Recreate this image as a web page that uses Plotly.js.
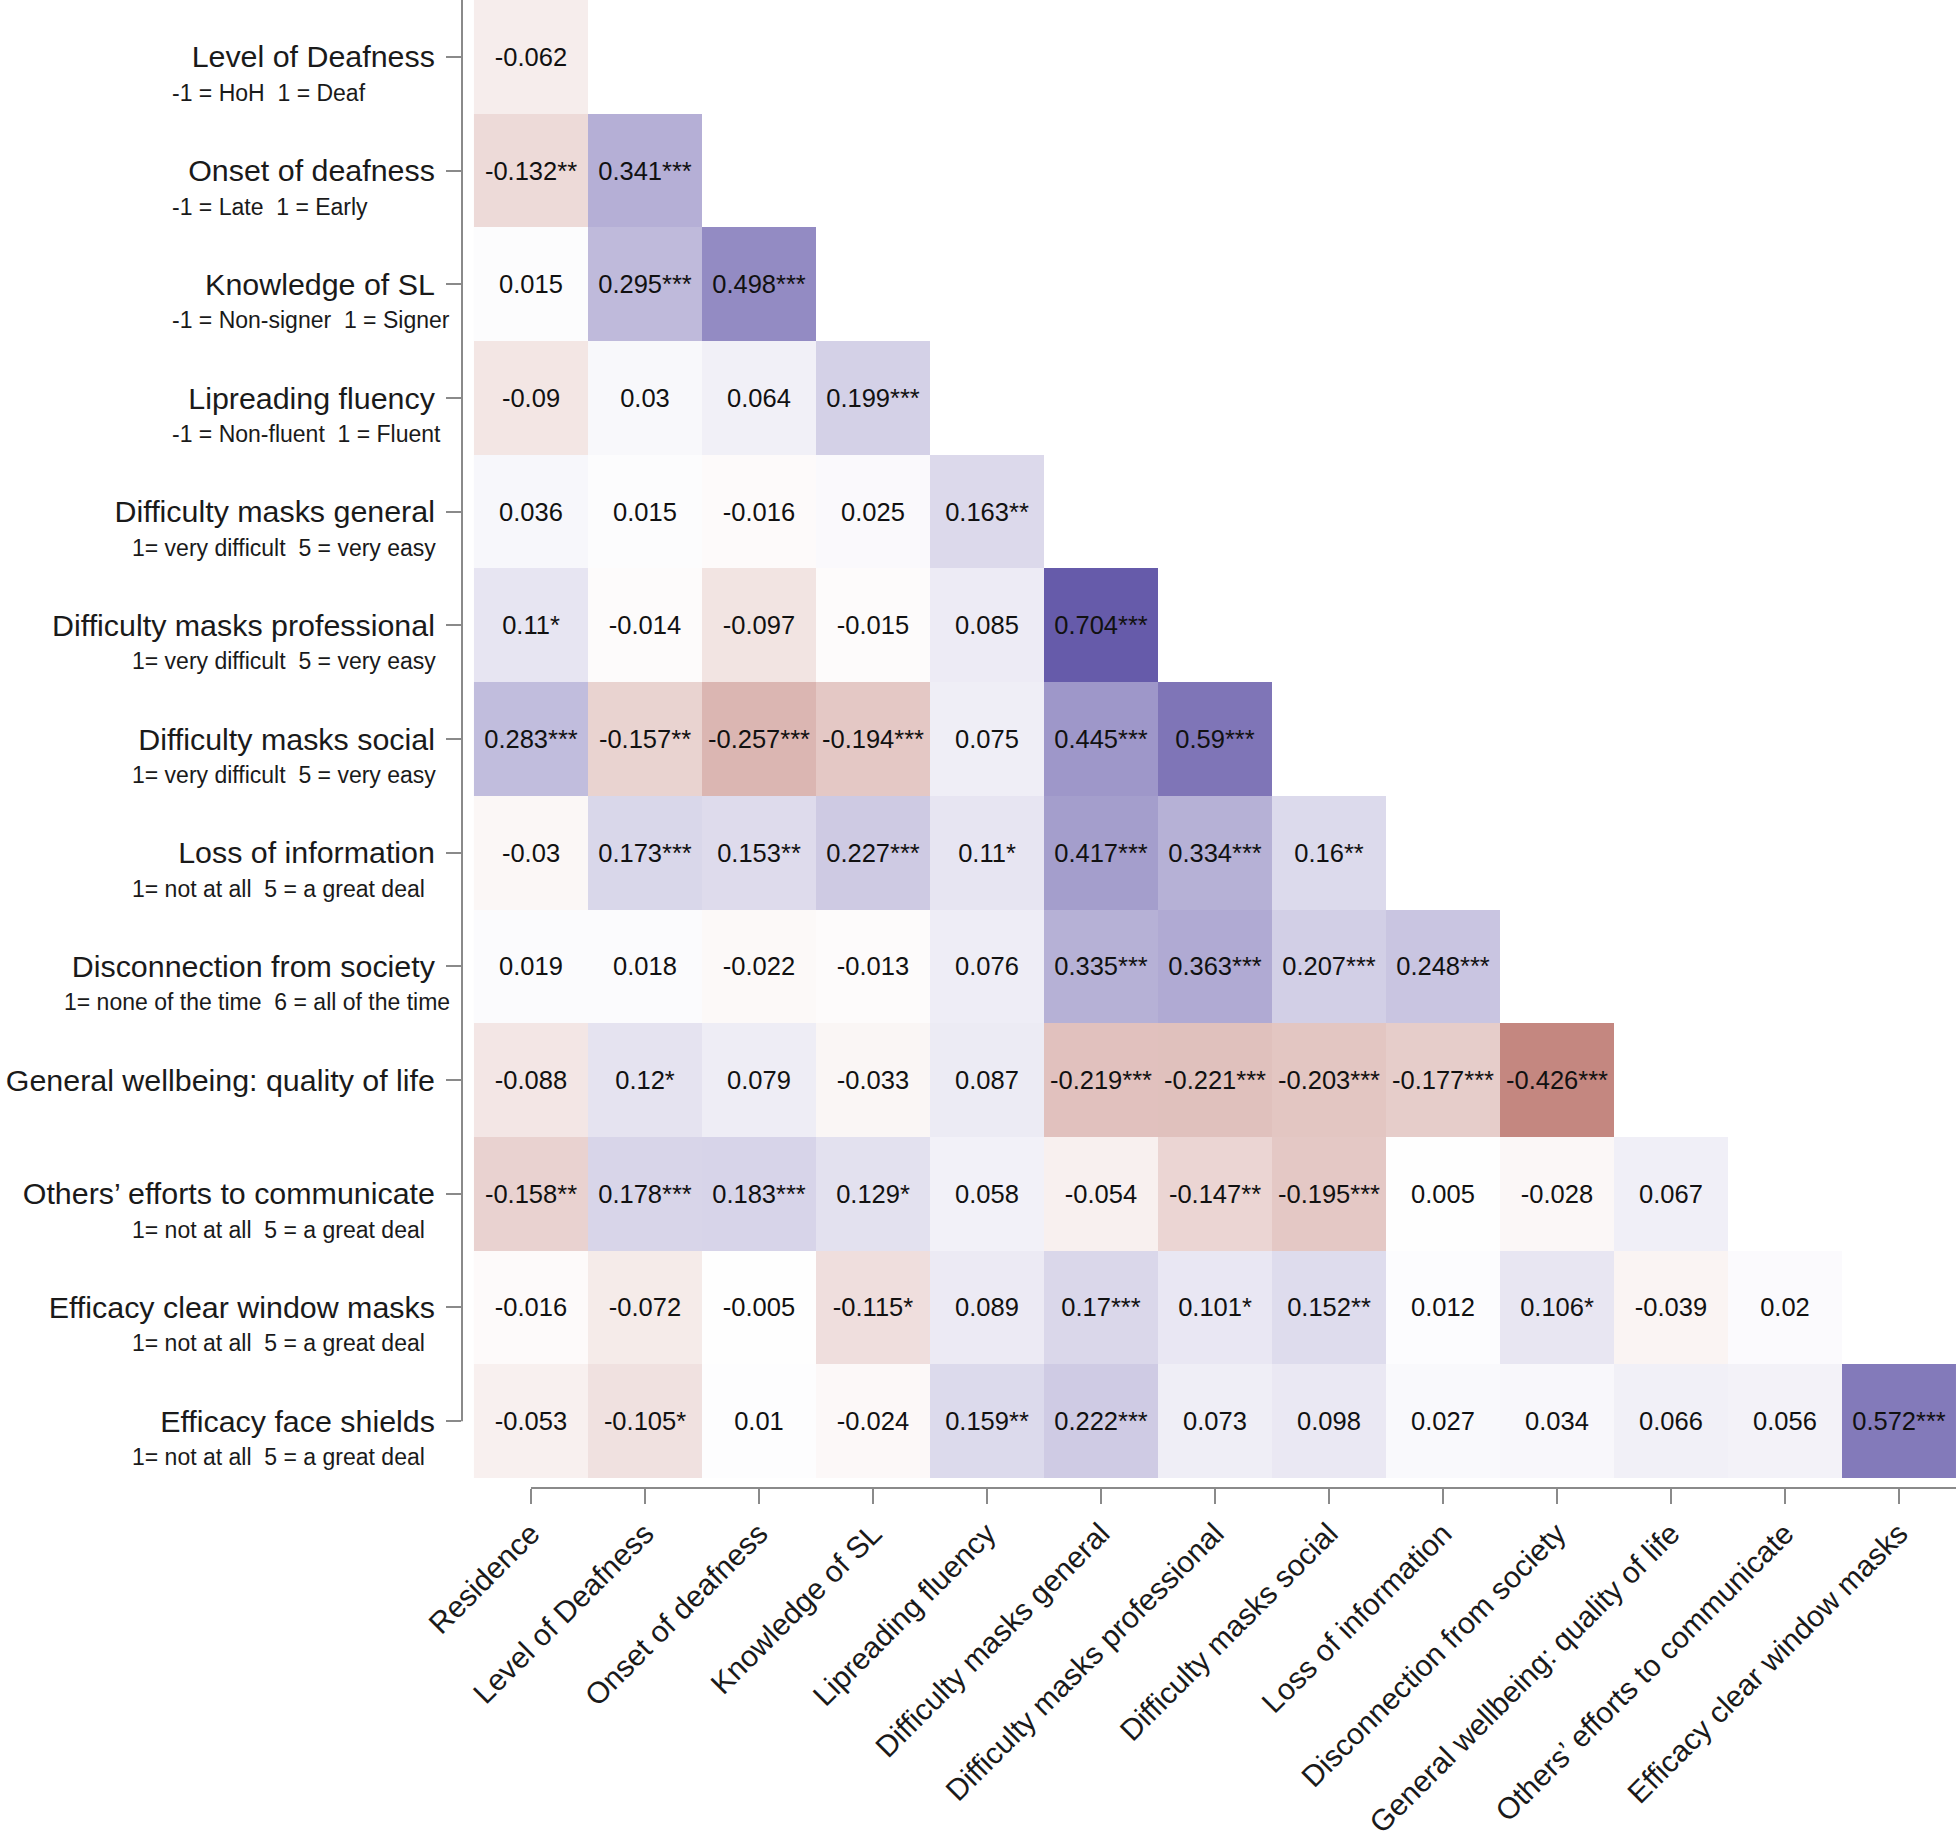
<!DOCTYPE html>
<html>
<head>
<meta charset="utf-8">
<script src="https://cdn.plot.ly/plotly-3.0.1.min.js"></script>
<style>
  html, body { margin: 0; padding: 0; background: #ffffff; }
  #chart { width: 1960px; height: 1840px; }
</style>
</head>
<body>
<div id="chart"></div>
<script>
// ---- Categories ----
const colLabels = [
  "Residence", "Level of Deafness", "Onset of deafness", "Knowledge of SL",
  "Lipreading fluency", "Difficulty masks general", "Difficulty masks professional",
  "Difficulty masks social", "Loss of information", "Disconnection from society",
  "General wellbeing: quality of life", "Others\u2019 efforts to communicate",
  "Efficacy clear window masks"
];
const rowLabels = [
  "Level of Deafness", "Onset of deafness", "Knowledge of SL", "Lipreading fluency",
  "Difficulty masks general", "Difficulty masks professional", "Difficulty masks social",
  "Loss of information", "Disconnection from society", "General wellbeing: quality of life",
  "Others\u2019 efforts to communicate", "Efficacy clear window masks", "Efficacy face shields"
];
const rowSubLabels = [
  "-1 = HoH\u00a0\u00a01 = Deaf",
  "-1 = Late\u00a0\u00a01 = Early",
  "-1 = Non-signer\u00a0\u00a01 = Signer",
  "-1 = Non-fluent\u00a0\u00a01 = Fluent",
  "1= very difficult\u00a0\u00a05 = very easy",
  "1= very difficult\u00a0\u00a05 = very easy",
  "1= very difficult\u00a0\u00a05 = very easy",
  "1= not at all\u00a0\u00a05 = a great deal",
  "1= none of the time\u00a0\u00a06 = all of the time",
  "",
  "1= not at all\u00a0\u00a05 = a great deal",
  "1= not at all\u00a0\u00a05 = a great deal",
  "1= not at all\u00a0\u00a05 = a great deal"
];

// ---- Correlation values (lower triangle, one array per row) ----
const corrLevelDeafness   = [-0.062];
const corrOnset           = [-0.132, 0.341];
const corrKnowledgeSL     = [0.015, 0.295, 0.498];
const corrLipreading      = [-0.09, 0.03, 0.064, 0.199];
const corrMasksGeneral    = [0.036, 0.015, -0.016, 0.025, 0.163];
const corrMasksProf       = [0.11, -0.014, -0.097, -0.015, 0.085, 0.704];
const corrMasksSocial     = [0.283, -0.157, -0.257, -0.194, 0.075, 0.445, 0.59];
const corrLossInfo        = [-0.03, 0.173, 0.153, 0.227, 0.11, 0.417, 0.334, 0.16];
const corrDisconnection   = [0.019, 0.018, -0.022, -0.013, 0.076, 0.335, 0.363, 0.207, 0.248];
const corrWellbeing       = [-0.088, 0.12, 0.079, -0.033, 0.087, -0.219, -0.221, -0.203, -0.177, -0.426];
const corrOthersEfforts   = [-0.158, 0.178, 0.183, 0.129, 0.058, -0.054, -0.147, -0.195, 0.005, -0.028, 0.067];
const corrClearMasks      = [-0.016, -0.072, -0.005, -0.115, 0.089, 0.17, 0.101, 0.152, 0.012, 0.106, -0.039, 0.02];
const corrFaceShields     = [-0.053, -0.105, 0.01, -0.024, 0.159, 0.222, 0.073, 0.098, 0.027, 0.034, 0.066, 0.056, 0.572];

// ---- Significance stars (one array per row) ----
const sigLevelDeafness = [""];
const sigOnset         = ["**", "***"];
const sigKnowledgeSL   = ["", "***", "***"];
const sigLipreading    = ["", "", "", "***"];
const sigMasksGeneral  = ["", "", "", "", "**"];
const sigMasksProf     = ["*", "", "", "", "", "***"];
const sigMasksSocial   = ["***", "**", "***", "***", "", "***", "***"];
const sigLossInfo      = ["", "***", "**", "***", "*", "***", "***", "**"];
const sigDisconnection = ["", "", "", "", "", "***", "***", "***", "***"];
const sigWellbeing     = ["", "*", "", "", "", "***", "***", "***", "***", "***"];
const sigOthersEfforts = ["**", "***", "***", "*", "", "", "**", "***", "", "", ""];
const sigClearMasks    = ["", "", "", "*", "", "***", "*", "**", "", "*", "", ""];
const sigFaceShields   = ["", "*", "", "", "**", "***", "", "", "", "", "", "", "***"];

const corrRows = [corrLevelDeafness, corrOnset, corrKnowledgeSL, corrLipreading, corrMasksGeneral,
  corrMasksProf, corrMasksSocial, corrLossInfo, corrDisconnection, corrWellbeing,
  corrOthersEfforts, corrClearMasks, corrFaceShields];
const sigRows = [sigLevelDeafness, sigOnset, sigKnowledgeSL, sigLipreading, sigMasksGeneral,
  sigMasksProf, sigMasksSocial, sigLossInfo, sigDisconnection, sigWellbeing,
  sigOthersEfforts, sigClearMasks, sigFaceShields];

// Build matrix (null above the diagonal)
const z = rowLabels.map((r, i) => colLabels.map((c, j) => j < corrRows[i].length ? corrRows[i][j] : null));
const txt = rowLabels.map((r, i) => colLabels.map((c, j) => j < corrRows[i].length ? String(corrRows[i][j]) + sigRows[i][j] : ""));

// ---- Layout constants ----
const W = 1960, H = 1840;
const mL = 462, mR = 4, mT = 0, mB = 352;
const FONT = "Liberation Sans, Arial, Helvetica, sans-serif";
const subLabelLeftPx = [170, 170, 170, 170, 130, 130, 130, 130, 62, 130, 130, 130, 130];
const subLabelOffset = -36;
const axisGray = "#8a8a8a";

const trace = {
  type: "heatmap",
  x: colLabels,
  y: rowLabels,
  z: z,
  text: txt,
  texttemplate: "%{text}",
  textfont: { family: FONT, size: 25.5, color: "#111111" },
  zmin: -0.75, zmax: 0.75,
  colorscale: [[0, "rgb(151,43,31)"], [0.5, "rgb(255,255,255)"], [1, "rgb(92,80,164)"]],
  showscale: false,
  hoverinfo: "skip",
  xgap: 0, ygap: 0
};

const annotations = rowSubLabels.map((s, i) => ({
  text: s,
  xref: "paper", x: 0, xanchor: "left", xshift: subLabelLeftPx[i] - mL,
  yref: "y", y: i, yanchor: "middle", yshift: subLabelOffset,
  showarrow: false,
  font: { family: FONT, size: 23, color: "#1a1a1a" }
})).filter(a => a.text !== "");

const shapes = [
  { type: "line", xref: "x", yref: "paper", x0: 0, x1: 12.5, y0: 0, y1: 0,
    line: { color: axisGray, width: 2 } },
  { type: "line", xref: "paper", yref: "y", x0: 0, x1: 0, y0: rowLabels.length - 1, y1: -0.5,
    line: { color: axisGray, width: 2 } }
];

const layout = {
  width: W, height: H,
  margin: { l: mL, r: mR, t: mT, b: mB, pad: 0 },
  paper_bgcolor: "#ffffff", plot_bgcolor: "#ffffff",
  font: { family: FONT, color: "#1a1a1a" },
  xaxis: {
    type: "category",
    range: [-0.605, 12.5],
    showgrid: false, zeroline: false, showline: false,
    ticks: "outside", ticklen: 15, tickwidth: 2, tickcolor: axisGray,
    tickangle: -45,
    tickfont: { family: FONT, size: 30, color: "#1a1a1a" },
    fixedrange: true
  },
  yaxis: {
    type: "category",
    range: [12.588, -0.5],
    showgrid: false, zeroline: false, showline: false,
    ticks: "outside", ticklen: 15, tickwidth: 2, tickcolor: axisGray,
    ticklabelstandoff: 5,
    tickfont: { family: FONT, size: 30.4, color: "#1a1a1a" },
    fixedrange: true
  },
  shapes: shapes,
  annotations: annotations,
  showlegend: false
};

Plotly.newPlot("chart", [trace], layout, { staticPlot: true, displayModeBar: false });
</script>
</body>
</html>
